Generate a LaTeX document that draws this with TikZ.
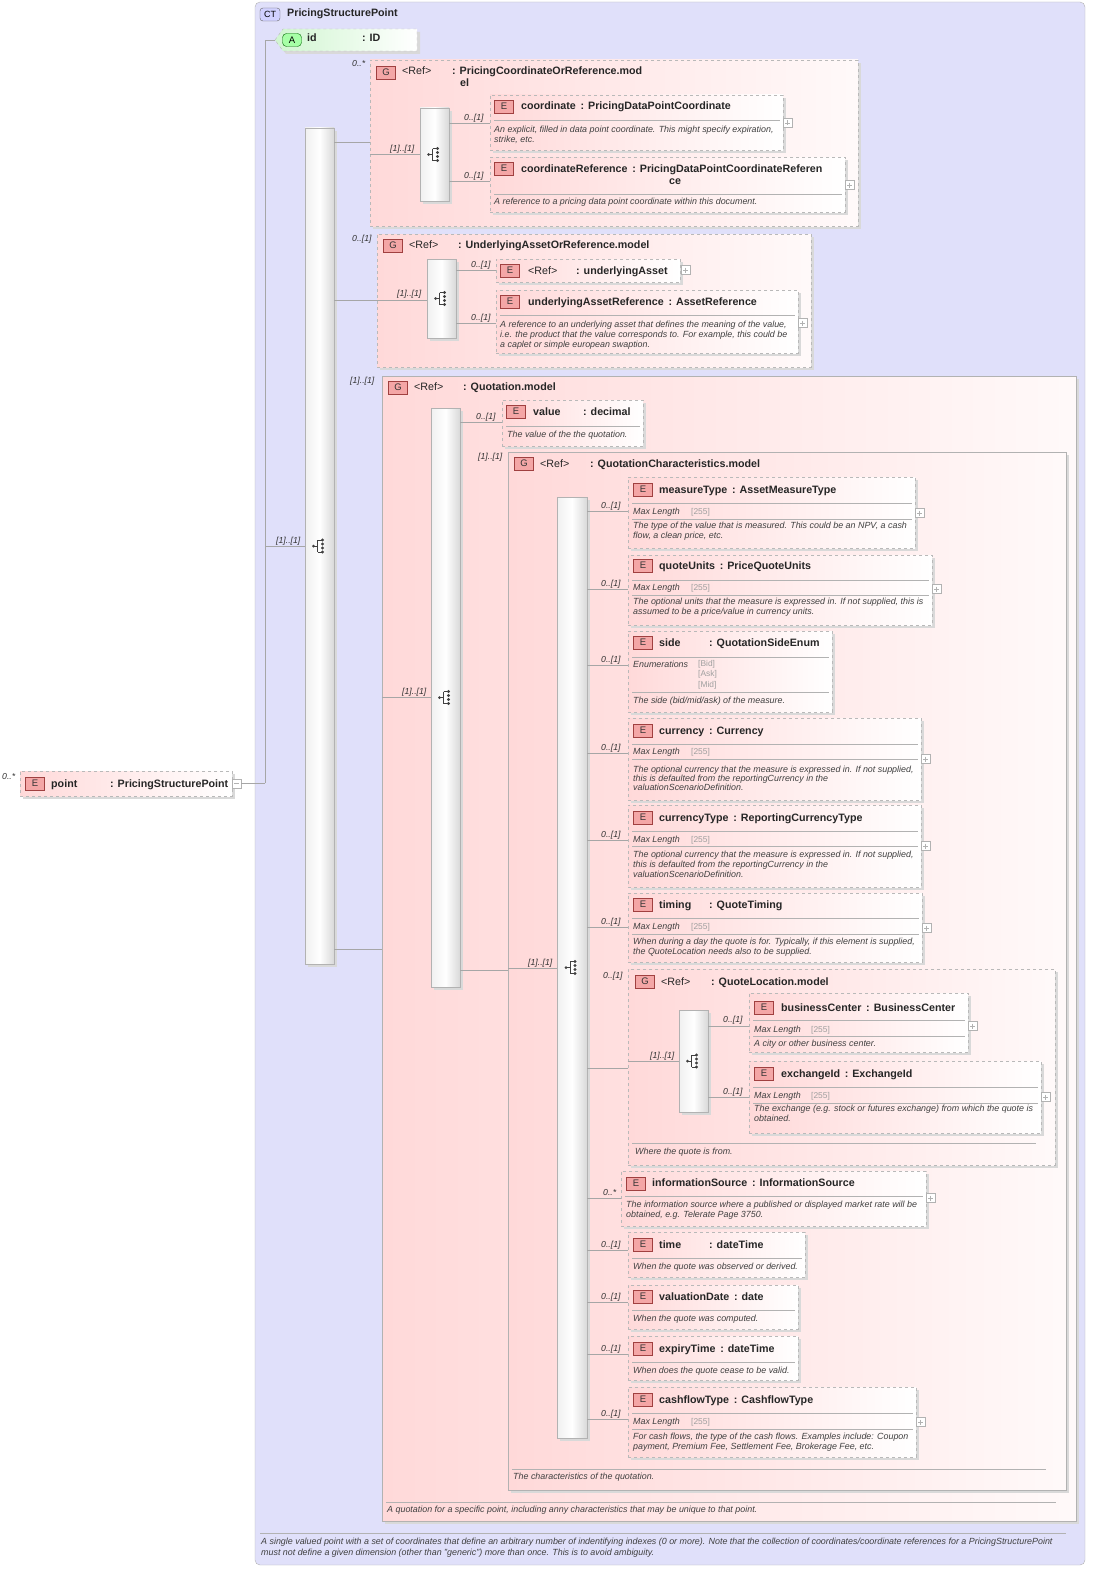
\documentclass[tikz,border=0pt]{standalone}
\usepackage{fontspec}
\setmainfont{Liberation Sans}
\usetikzlibrary{fit}
\definecolor{lav}{HTML}{E0E0FA}
\definecolor{pinkc}{HTML}{FFD9D9}
\definecolor{grn}{HTML}{D0F5D0}
\definecolor{bdg}{HTML}{F4A6A6}
\definecolor{bdgb}{HTML}{A04040}
\tikzset{
 ttl/.style={font=\fontsize{10.7}{13}\selectfont\bfseries, text=black!85, anchor=base west, inner sep=0},
 tnb/.style={font=\fontsize{10.7}{13}\selectfont, text=black!85, anchor=base west, inner sep=0},
 dsc/.style={font=\fontsize{8.9}{10}\selectfont\itshape, text=black!75, anchor=base west, inner sep=0},
 lbl/.style={font=\fontsize{8.7}{10}\selectfont\itshape, text=black!80, anchor=base west, inner sep=0},
 gtxt/.style={font=\fontsize{8.4}{10}\selectfont, text=gray!75, anchor=base west, inner sep=0},
 elb/.style={draw=gray!55, dashed, left color=pinkc, right color=white, inner sep=0},
 grpb/.style={draw=gray!55, dashed, left color=pinkc, right color=white!85!pinkc, inner sep=0},
 grps/.style={draw=gray!60, left color=pinkc, right color=white!85!pinkc, inner sep=0},
 seqb/.style={draw=gray!60, left color=gray!12, right color=gray!30, middle color=white, inner sep=0},
 conn/.style={draw=gray!70, line width=0.6pt},
 sepl/.style={draw=gray!60, line width=0.5pt},
 badgeE/.style={draw=bdgb, fill=bdg, minimum width=19pt, minimum height=13pt, inner sep=0, font=\fontsize{9.5}{10}\selectfont, text=black!80},
 shd/.style={fill=gray!30, draw=none}
}
\newcommand\tl[3]{\node[ttl] at (#1,#2+4) {#3};}
\newcommand\tn[3]{\node[tnb] at (#1,#2+4) {#3};}
\newcommand\ds[3]{\node[dsc] at (#1,#2+3.2) {#3};}
\newcommand\lb[3]{\node[lbl] at (#1,#2+3.2) {#3};}
\newcommand\gt[3]{\node[gtxt] at (#1,#2+3) {#3};}
\newcommand\hl[3]{\draw[sepl] (#1,#2) -- (#3,#2);}
\newcommand\bE[2]{\node[badgeE] at (#1+10,#2+6.5) {E};}
\newcommand\bG[2]{\node[badgeE] at (#1+10,#2+6.5) {G};}
\newcommand\pb[2]{\draw[gray!60, fill=white] (#1,#2-4.5) rectangle (#1+9,#2+4.5); \draw[gray!60] (#1+2,#2) -- (#1+7,#2) (#1+4.5,#2-2.5) -- (#1+4.5,#2+2.5);}
\newcommand\elbox[5]{\fill[shd] (#2+3,#3+3) rectangle (#4+3,#5+3); \node[elb, fit={(#2,#3)(#4,#5)}] (#1) {};}
\newcommand\sqb[5]{\fill[shd] (#2+3,#3+3) rectangle (#4+3,#5+3); \node[seqb, fit={(#2,#3)(#4,#5)}] (#1) {};
 \begin{scope}[shift={({(#2+#4)/2},{(#3+#5)/2})}]
 \fill[black!75] (-6,0) circle (1.5pt);
 \draw[black!75, line width=0.8pt] (-6,0) -- (-2,0) (-2,-6) -- (-2,6) (-2,-6) -- (2,-6) (-2,6) -- (2,6);
 \foreach \yy in {-6,-2,2,6} \fill[black!75] (3,\yy) circle (1.6pt);
 \end{scope}}
\begin{document}
\begin{tikzpicture}[x=1pt,y=-1pt]
\useasboundingbox (0,0) rectangle (1096,1576);
% outer CT
\node[draw=gray!60, fill=lav, rounded corners=5pt, fit={(255,2)(1085,1565)}, inner sep=0] (ct) {};
\node[draw=black!60, fill=blue!18, rounded corners=3pt, minimum width=20pt, minimum height=13pt, inner sep=0, font=\fontsize{9}{10}\selectfont] at (270,14.5) {CT};
\tl{287}{13}{PricingStructurePoint}
\hl{260}{1533}{1066}
\ds{261}{1541}{A single valued point with a set of coordinates that define an arbitrary number of indentifying indexes (0 or more). Note that the collection of coordinates/coordinate references for a PricingStructurePoint}
\ds{261}{1552}{must not define a given dimension (other than "generic") more than once. This is to avoid ambiguity.}
% point element
\elbox{point}{20}{771}{232}{796}
\bE{25}{777}
\tl{51}{783}{point}
\tl{110}{783}{: PricingStructurePoint}
\draw[gray!60, fill=white] (232,779) rectangle (241,788); \draw[gray!60] (234,783.5) -- (239,783.5);
\lb{2}{776}{0..*}
\coordinate (trunk) at (265,783);
\draw[conn] (241,783) -- (trunk);
% attribute id
\fill[shd] (278,43) -- (286,32) -- (420,32) -- (420,54) -- (286,54) -- cycle;
\draw[gray!55, dashed, left color=grn, right color=white] (275,40) -- (283,29) -- (417,29) -- (417,51) -- (283,51) -- cycle;
\node[fit={(275,29)(417,51)}, inner sep=0] (id) {};
\node[draw=green!40!black, fill=green!35, rounded corners=4pt, minimum width=19pt, minimum height=13pt, inner sep=0, font=\fontsize{9.5}{10}\selectfont] at (292,40) {A};
\tl{307}{38}{id}
\tl{362}{38}{: ID}
\draw[conn] (trunk) -- (265,40) -- (id.west);
% main sequence
\sqb{s1}{305}{128}{334}{964}
\draw[conn] (265,546) -- (s1.west |- 0,546);
\lb{276}{540}{[1]..[1]}
% ===== group 1
\fill[shd] (373,63) rectangle (861,229);
\node[grpb, fit={(370,60)(858,226)}] (g1) {};
\lb{352}{63}{0..*}
\bG{376}{66}
\tn{402}{71}{<Ref>}
\tl{452}{71}{: PricingCoordinateOrReference.mod}
\tl{460}{83}{el}
\draw[conn] (s1.east |- 0,142) -- (g1.west |- 0,142);
\sqb{s2}{420}{108}{449}{201}
\draw[conn] (g1.west |- 0,154) -- (s2.west |- 0,154);
\lb{390}{148}{[1]..[1]}
\elbox{coord}{490}{95}{783}{150}
\bE{494}{100}
\tl{521}{106}{coordinate\, : PricingDataPointCoordinate}
\hl{494}{120}{780}
\ds{494}{129}{An explicit, filled in data point coordinate. This might specify expiration,}
\ds{494}{139}{strike, etc.}
\pb{783}{123}
\draw[conn] (s2.east |- 0,123) -- (coord.west |- 0,123); \lb{464}{117}{0..[1]}
\elbox{coordref}{490}{157}{845}{212}
\bE{494}{162}
\tl{521}{168}{coordinateReference\, : PricingDataPointCoordinateReferen}
\tl{669}{180}{ce}
\hl{494}{194}{842}
\ds{494}{201}{A reference to a pricing data point coordinate within this document.}
\pb{845}{185}
\draw[conn] (s2.east |- 0,181) -- (coordref.west |- 0,181); \lb{464}{175}{0..[1]}
% ===== group 2
\fill[shd] (380,237) rectangle (814,370);
\node[grpb, fit={(377,234)(811,367)}] (g2) {};
\lb{352}{238}{0..[1]}
\bG{383}{239}
\tn{409}{244}{<Ref>}
\tl{458}{244}{: UnderlyingAssetOrReference.model}
\draw[conn] (s1.east |- 0,300) -- (g2.west |- 0,300);
\sqb{s3}{427}{259}{456}{338}
\draw[conn] (g2.west |- 0,300) -- (s3.west |- 0,300);
\lb{397}{293}{[1]..[1]}
\elbox{ua}{496}{259}{680}{282}
\bE{500}{264}
\tn{528}{270}{<Ref>}
\tl{576}{270}{: underlyingAsset}
\pb{681}{270}
\draw[conn] (s3.east |- 0,270) -- (ua.west |- 0,270); \lb{471}{264}{0..[1]}
\elbox{uar}{496}{290}{798}{353}
\bE{500}{295}
\tl{528}{301}{underlyingAssetReference\, : AssetReference}
\hl{500}{315}{795}
\ds{500}{324}{A reference to an underlying asset that defines the meaning of the value,}
\ds{500}{334}{i.e. the product that the value corresponds to. For example, this could be}
\ds{500}{344}{a caplet or simple european swaption.}
\pb{798}{323}
\draw[conn] (s3.east |- 0,323) -- (uar.west |- 0,323); \lb{471}{317}{0..[1]}
% ===== group 3
\fill[shd] (385,379) rectangle (1079,1524);
\node[grps, fit={(382,376)(1076,1521)}] (g3) {};
\lb{350}{380}{[1]..[1]}
\bG{388}{381}
\tn{414}{386}{<Ref>}
\tl{463}{386}{: Quotation.model}
\hl{386}{1502}{1056}
\ds{387}{1509}{A quotation for a specific point, including anny characteristics that may be unique to that point.}
\draw[conn] (s1.east |- 0,949) -- (g3.west |- 0,949);
\sqb{s4}{431}{408}{460}{987}
\draw[conn] (g3.west |- 0,697) -- (s4.west |- 0,697);
\lb{402}{691}{[1]..[1]}
\elbox{val}{502}{400}{643}{446}
\bE{506}{405}
\tl{533}{411}{value}
\tl{583}{411}{: decimal}
\hl{506}{426}{640}
\ds{507}{434}{The value of the the quotation.}
\draw[conn] (s4.east |- 0,422) -- (val.west |- 0,422); \lb{476}{416}{0..[1]}
% ===== group 4
\fill[shd] (511,455) rectangle (1069,1493);
\node[grps, fit={(508,452)(1066,1490)}] (g4) {};
\lb{478}{456}{[1]..[1]}
\bG{514}{457}
\tn{540}{463}{<Ref>}
\tl{590}{463}{: QuotationCharacteristics.model}
\hl{512}{1469}{1046}
\ds{513}{1476}{The characteristics of the quotation.}
\draw[conn] (s4.east |- 0,970) -- (g4.west |- 0,970);
\sqb{s5}{557}{497}{587}{1438}
\draw[conn] (g4.west |- 0,968) -- (s5.west |- 0,968);
\lb{528}{962}{[1]..[1]}
% measureType
\elbox{mt}{628}{477}{915}{548}
\bE{633}{483}
\tl{659}{489}{measureType\, : AssetMeasureType}
\hl{632}{503}{912}
\node[dsc] at (633,514) {Max Length}; \gt{691}{511}{[255]}
\hl{632}{519}{912}
\ds{633}{525}{The type of the value that is measured. This could be an NPV, a cash}
\ds{633}{535}{flow, a clean price, etc.}
\pb{915}{513}
\draw[conn] (s5.east |- 0,511) -- (mt.west |- 0,511); \lb{601}{505}{0..[1]}
% quoteUnits
\elbox{qu}{628}{555}{932}{625}
\bE{633}{559}
\tl{659}{565}{quoteUnits\, : PriceQuoteUnits}
\hl{632}{580}{929}
\node[dsc] at (633,590) {Max Length}; \gt{691}{587}{[255]}
\hl{632}{595}{929}
\ds{633}{601}{The optional units that the measure is expressed in. If not supplied, this is}
\ds{633}{611}{assumed to be a price/value in currency units.}
\pb{932}{589}
\draw[conn] (s5.east |- 0,589) -- (qu.west |- 0,589); \lb{601}{583}{0..[1]}
% side
\elbox{side}{628}{631}{832}{712}
\bE{633}{636}
\tl{659}{642}{side}
\tl{709}{642}{: QuotationSideEnum}
\hl{632}{657}{829}
\node[dsc] at (633,667) {Enumerations};
\gt{698}{663}{[Bid]} \gt{698}{673}{[Ask]} \gt{698}{684}{[Mid]}
\hl{632}{692}{829}
\ds{633}{700}{The side (bid/mid/ask) of the measure.}
\draw[conn] (s5.east |- 0,665) -- (side.west |- 0,665); \lb{601}{659}{0..[1]}
% currency
\elbox{cur}{628}{718}{921}{800}
\bE{633}{724}
\tl{659}{730}{currency\, : Currency}
\hl{632}{744}{918}
\node[dsc] at (633,754) {Max Length}; \gt{691}{751}{[255]}
\hl{632}{759}{918}
\ds{633}{769}{The optional currency that the measure is expressed in. If not supplied,}
\ds{633}{778}{this is defaulted from the reportingCurrency in the}
\ds{633}{787}{valuationScenarioDefinition.}
\pb{921}{759}
\draw[conn] (s5.east |- 0,753) -- (cur.west |- 0,753); \lb{601}{747}{0..[1]}
% currencyType
\elbox{curt}{628}{805}{921}{887}
\bE{633}{811}
\tl{659}{817}{currencyType\, : ReportingCurrencyType}
\hl{632}{831}{918}
\node[dsc] at (633,842) {Max Length}; \gt{691}{839}{[255]}
\hl{632}{846}{918}
\ds{633}{854}{The optional currency that the measure is expressed in. If not supplied,}
\ds{633}{864}{this is defaulted from the reportingCurrency in the}
\ds{633}{874}{valuationScenarioDefinition.}
\pb{921}{846}
\draw[conn] (s5.east |- 0,840) -- (curt.west |- 0,840); \lb{601}{834}{0..[1]}
% timing
\elbox{tim}{628}{893}{922}{962}
\bE{633}{898}
\tl{659}{904}{timing}
\tl{709}{904}{: QuoteTiming}
\hl{632}{918}{919}
\node[dsc] at (633,929) {Max Length}; \gt{691}{926}{[255]}
\hl{632}{934}{919}
\ds{633}{941}{When during a day the quote is for. Typically, if this element is supplied,}
\ds{633}{951}{the QuoteLocation needs also to be supplied.}
\pb{922}{928}
\draw[conn] (s5.east |- 0,927) -- (tim.west |- 0,927); \lb{601}{921}{0..[1]}
% QuoteLocation group
\fill[shd] (631,972) rectangle (1058,1168);
\node[grpb, fit={(628,969)(1055,1165)}] (g5) {};
\lb{603}{975}{0..[1]}
\bG{635}{975}
\tn{661}{981}{<Ref>}
\tl{711}{981}{: QuoteLocation.model}
\hl{632}{1143}{1036}
\ds{635}{1151}{Where the quote is from.}
\draw[conn] (s5.east |- 0,1068) -- (g5.west |- 0,1068);
\sqb{s6}{679}{1010}{708}{1112}
\draw[conn] (g5.west |- 0,1061) -- (s6.west |- 0,1061);
\lb{650}{1055}{[1]..[1]}
\elbox{bc}{749}{993}{968}{1052}
\bE{754}{1001}
\tl{781}{1007}{businessCenter\, : BusinessCenter}
\hl{753}{1020}{965}
\node[dsc] at (754,1032) {Max Length}; \gt{811}{1029}{[255]}
\hl{753}{1036}{965}
\ds{754}{1043}{A city or other business center.}
\pb{968}{1026}
\draw[conn] (s6.east |- 0,1026) -- (bc.west |- 0,1026); \lb{723}{1019}{0..[1]}
\elbox{ex}{749}{1061}{1041}{1133}
\bE{754}{1067}
\tl{781}{1073}{exchangeId\, : ExchangeId}
\hl{753}{1087}{1038}
\node[dsc] at (754,1098) {Max Length}; \gt{811}{1095}{[255]}
\hl{753}{1103}{1038}
\ds{754}{1108}{The exchange (e.g. stock or futures exchange) from which the quote is}
\ds{754}{1118}{obtained.}
\pb{1041}{1097}
\draw[conn] (s6.east |- 0,1097) -- (ex.west |- 0,1097); \lb{723}{1091}{0..[1]}
% informationSource
\elbox{is}{621}{1171}{926}{1226}
\bE{626}{1177}
\tl{652}{1182}{informationSource\, : InformationSource}
\hl{625}{1196}{923}
\ds{626}{1204}{The information source where a published or displayed market rate will be}
\ds{626}{1214}{obtained, e.g. Telerate Page 3750.}
\pb{926}{1198}
\draw[conn] (s5.east |- 0,1198) -- (is.west |- 0,1198); \lb{603}{1192}{0..*}
% time
\elbox{tm}{628}{1232}{805}{1277}
\bE{633}{1238}
\tl{659}{1244}{time}
\tl{709}{1244}{: dateTime}
\hl{632}{1258}{802}
\ds{633}{1266}{When the quote was observed or derived.}
\draw[conn] (s5.east |- 0,1250) -- (tm.west |- 0,1250); \lb{601}{1244}{0..[1]}
% valuationDate
\elbox{vd}{628}{1285}{798}{1329}
\bE{633}{1290}
\tl{659}{1296}{valuationDate\, : date}
\hl{632}{1310}{795}
\ds{633}{1318}{When the quote was computed.}
\draw[conn] (s5.east |- 0,1302) -- (vd.west |- 0,1302); \lb{601}{1296}{0..[1]}
% expiryTime
\elbox{et}{628}{1336}{798}{1380}
\bE{633}{1342}
\tl{659}{1348}{expiryTime\, : dateTime}
\hl{632}{1362}{795}
\ds{633}{1370}{When does the quote cease to be valid.}
\draw[conn] (s5.east |- 0,1354) -- (et.west |- 0,1354); \lb{601}{1348}{0..[1]}
% cashflowType
\elbox{cf}{628}{1387}{916}{1457}
\bE{633}{1393}
\tl{659}{1399}{cashflowType\, : CashflowType}
\hl{632}{1413}{913}
\node[dsc] at (633,1424) {Max Length}; \gt{691}{1421}{[255]}
\hl{632}{1429}{913}
\ds{633}{1436}{For cash flows, the type of the cash flows. Examples include: Coupon}
\ds{633}{1446}{payment, Premium Fee, Settlement Fee, Brokerage Fee, etc.}
\pb{916}{1422}
\draw[conn] (s5.east |- 0,1419) -- (cf.west |- 0,1419); \lb{601}{1413}{0..[1]}
\end{tikzpicture}
\end{document}
